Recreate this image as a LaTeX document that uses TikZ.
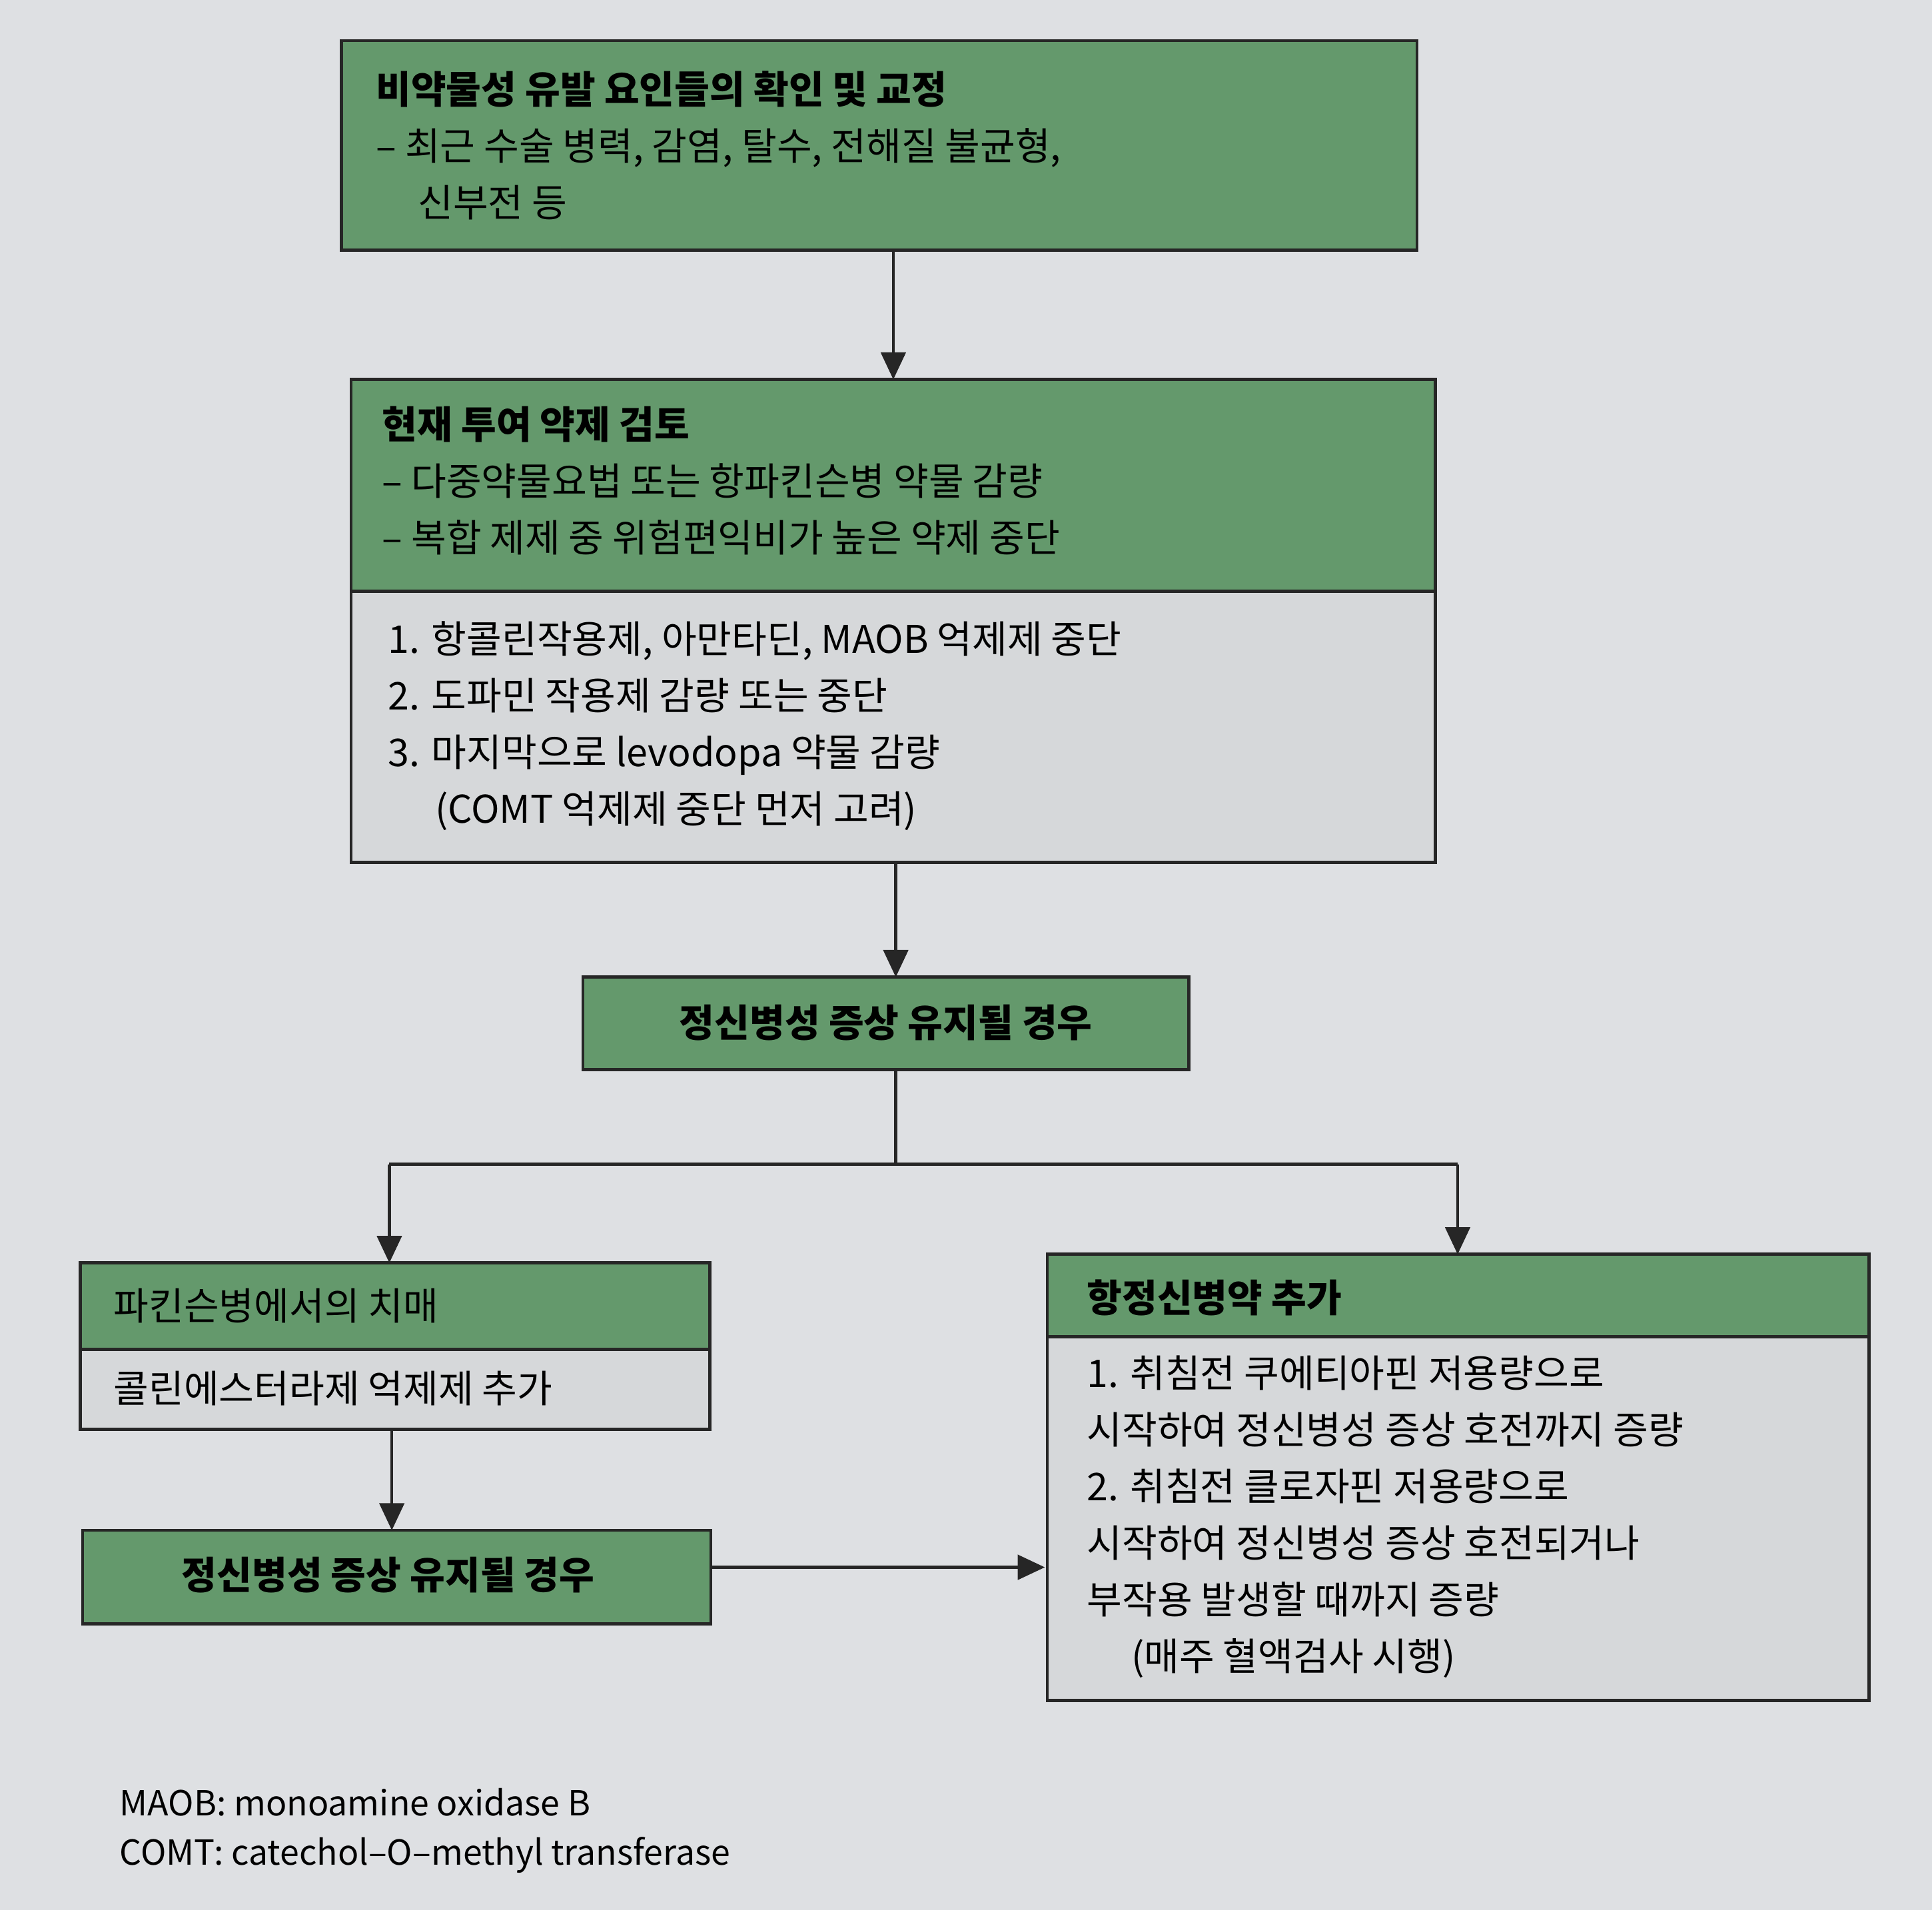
\documentclass[tikz,border=0pt]{standalone}
\usepackage{fontspec}
\setmainfont{Noto Sans CJK KR}
\usetikzlibrary{arrows.meta}
\definecolor{bg}{HTML}{DEE0E3}
\definecolor{gr}{HTML}{64996C}
\definecolor{bd}{HTML}{D6D8DA}
\tikzset{x=1pt,y=-1pt,
 hdr/.style={draw=black!85,line width=2.5pt,fill=gr},
 bdy/.style={draw=black!85,line width=2.5pt,fill=bd},
 txt/.style={anchor=west,inner sep=0pt,font=\fontsize{31}{46}\selectfont,align=left},
 con/.style={line width=2.5pt,draw=black!85,-{Triangle[length=22pt,width=20pt]}}}
\begin{document}
\begin{tikzpicture}
\fill[bg] (0,0) rectangle (1568,1550);
\useasboundingbox (0,0) rectangle (1568,1550);
% box1
\draw[hdr] (277,33) rectangle (1150,203);
\node[txt] (t1) at (305,118) {\textbf{비약물성 유발 요인들의 확인 및 교정}\\– 최근 수술 병력, 감염, 탈수, 전해질 불균형,\\\hspace{34pt}신부전 등};
\coordinate (b1) at (725,203);
% box2
\draw[hdr] (285,308) rectangle (1165,480);
\draw[bdy] (285,480) rectangle (1165,700);
\node[txt] (t2) at (310,390) {\textbf{현재 투여 약제 검토}\\– 다중약물요법 또는 항파킨슨병 약물 감량\\– 복합 제제 중 위험편익비가 높은 약제 중단};
\node[txt] (t2b) at (315,589) {1. 항콜린작용제, 아만타딘, MAOB 억제제 중단\\2. 도파민 작용제 감량 또는 중단\\3. 마지막으로 levodopa 약물 감량\\\hspace{38pt}(COMT 억제제 중단 먼저 고려)};
\coordinate (a2) at (725,308);
\coordinate (b2) at (727,700);
\draw[con] (b1) -- (a2);
% box3
\draw[hdr] (473,793) rectangle (965,868);
\node[font=\fontsize{31}{46}\selectfont\bfseries] (t3) at (719,830) {정신병성 증상 유지될 경우};
\coordinate (a3) at (727,793);
\coordinate (b3) at (727,868);
\draw[con] (b2) -- (a3);
\coordinate (j) at (727,945);
\coordinate (jl) at (316,945);
\coordinate (jr) at (1183,945);
\coordinate (a4) at (316,1025);
\coordinate (a6) at (1183,1018);
\draw[line width=2.5pt,draw=black!85] (b3) -- (j) (jl) -- (jr);
\draw[con] (jl) -- (a4);
\draw[con] (jr) -- (a6);
% box4
\draw[hdr] (65,1025) rectangle (576,1095);
\draw[bdy] (65,1095) rectangle (576,1160);
\node[txt] (t4) at (92,1060) {파킨슨병에서의 치매};
\node[txt] (t4b) at (92,1127) {콜린에스터라제 억제제 추가};
\coordinate (b4) at (318,1160);
\coordinate (a5) at (318,1242);
\draw[con] (b4) -- (a5);
% box5
\draw[hdr] (67,1242) rectangle (577,1318);
\node[font=\fontsize{31}{46}\selectfont\bfseries] (t5) at (315,1278) {정신병성 증상 유지될 경우};
\coordinate (b5) at (577,1272);
\coordinate (a6l) at (848,1272);
\draw[con] (b5) -- (a6l);
% box6
\draw[hdr] (850,1018) rectangle (1517,1085);
\draw[bdy] (850,1085) rectangle (1517,1380);
\node[txt] (t6) at (882,1053) {\textbf{항정신병약 추가}};
\node[txt] (t6b) at (882,1231) {1. 취침전 쿠에티아핀 저용량으로\\시작하여 정신병성 증상 호전까지 증량\\2. 취침전 클로자핀 저용량으로\\시작하여 정신병성 증상 호전되거나\\부작용 발생할 때까지 증량\\\hspace{36pt}(매주 혈액검사 시행)};
% footnote
\node[txt,font=\fontsize{28}{40}\selectfont] (fn) at (97,1486) {MAOB: monoamine oxidase B\\COMT: catechol–O–methyl transferase};
\end{tikzpicture}
\end{document}
